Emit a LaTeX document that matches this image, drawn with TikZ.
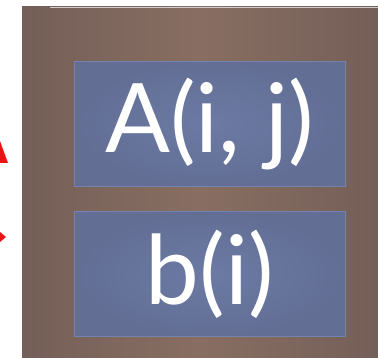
\documentclass[tikz,border=0pt]{standalone}
\usepackage{fontspec}
\setmainfont{Lato}
\definecolor{panelmid}{RGB}{136,110,98}
\definecolor{panelside}{RGB}{116,95,88}
\definecolor{boxfill}{RGB}{98,110,148}
\definecolor{boxlight}{RGB}{108,122,164}
\definecolor{boxedge}{RGB}{116,130,176}
\definecolor{tipred}{RGB}{235,20,20}
\begin{document}
\begin{tikzpicture}[
  x=1pt, y=-1pt,
  varbox/.style={draw=boxedge, line width=1pt, inner color=boxlight,
    outer color=boxfill, inner sep=0pt,
    minimum width=271pt, minimum height=125pt, text=white,
    font=\fontsize{96}{96}\selectfont}
]
\useasboundingbox (0,0) rectangle (378,358);

% panel
\shade[left color=panelside, right color=panelside, middle color=panelmid]
  (22,7) rectangle (378,358);
\draw[black!20, line width=0.8pt] (50,7) -- (378,7);

% entries
\node[varbox] (aij) at (209.5,124) {A(i, j)};
\node[varbox] (bi) at (210,274.5) {b(i)};

% cut arrow tips
\fill[tipred] (0,141) -- (8,163) -- (0,163) -- cycle;
\fill[tipred] (0,232) -- (6,237) -- (0,242) -- cycle;
\end{tikzpicture}
\end{document}
